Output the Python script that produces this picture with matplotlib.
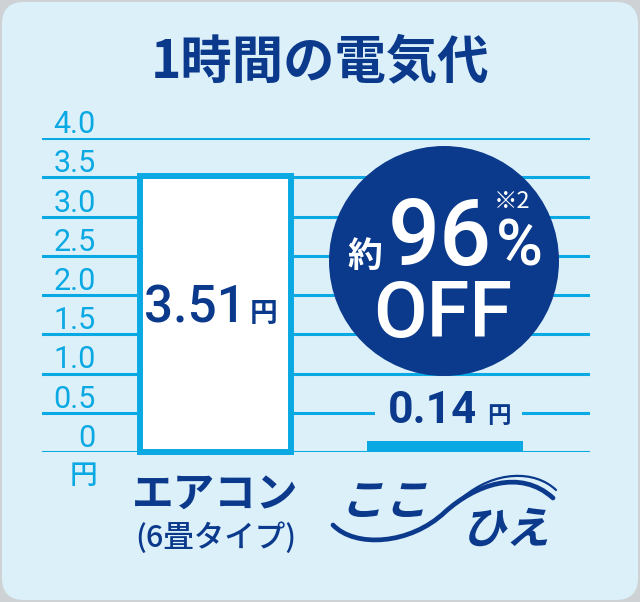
import numpy as np
import matplotlib.pyplot as plt
from matplotlib.patches import FancyBboxPatch, Circle, PathPatch
from matplotlib.path import Path
from matplotlib.textpath import TextPath
from matplotlib.font_manager import FontProperties
from matplotlib.transforms import Affine2D

# データ
categories = ['エアコン', 'ここひえ']
category_sub = '(6畳タイプ)'
costs = [3.51, 0.14]
cost_labels = ['3.51', '0.14']
y_ticks = [0, 0.5, 1.0, 1.5, 2.0, 2.5, 3.0, 3.5, 4.0]
y_tick_labels = ['0', '0.5', '1.0', '1.5', '2.0', '2.5', '3.0', '3.5', '4.0']
title = '1時間の電気代'
unit = '円'
off_pct = '96'

NAVY = '#0b3a8c'
CYAN = '#0aa9e3'
BG = '#dcf0fa'
JP = ['Noto Sans CJK JP', 'DejaVu Sans']
NUM = ['Roboto', 'Noto Sans CJK JP']

W, H = 640, 602
fig = plt.figure(figsize=(W / 100, H / 100), dpi=100)
fig.patch.set_facecolor('#cfd2d4')
# 画像のピクセル座標（y は下向き / 上向き）
PX = Affine2D().scale(1 / W, -1 / H).translate(0, 1) + fig.transFigure
PXU = Affine2D().scale(1 / W, 1 / H) + fig.transFigure

# 角丸の背景
fig.patches.append(FancyBboxPatch((2, 2), W - 4, H - 4,
                                  boxstyle='round,pad=0,rounding_size=22',
                                  fc=BG, ec='none', transform=PXU, zorder=-5))

fig.text(0.5, 1 - 62 / H, title, ha='center', va='center', fontsize=37,
         fontweight='bold', color=NAVY, family=JP)

ax = fig.add_axes([42 / W, (H - 452) / H, 548 / W, 314 / H])
ax.set_xlim(-0.756, 1.632)
ax.set_ylim(0, 4.0)
ax.axis('off')

# 目盛り線とラベル
for t, lab in zip(y_ticks, y_tick_labels):
    ax.axhline(t, color=CYAN, lw=2.2, zorder=1)
    ax.annotate(lab, xy=(0.1, t), xycoords=('axes fraction', 'data'),
                xytext=(-1, 5), textcoords='offset pixels', ha='right',
                va='baseline', color=CYAN, fontsize=22, family=NUM)
ax.annotate(unit, xy=(0.075, 0), xycoords='axes fraction', xytext=(0, -24),
            textcoords='offset pixels', ha='center', va='center',
            color=CYAN, fontsize=20, fontweight='medium', family=JP,
            annotation_clip=False)

# 棒
ax.bar(0, costs[0], width=0.658, color='white', edgecolor=CYAN,
       linewidth=4.3, zorder=3, clip_on=False)
ax.bar(1, costs[1], width=0.68, color=CYAN, zorder=3, clip_on=False)

# 値ラベル
ax.annotate(cost_labels[0], xy=(0, costs[0] / 2), xytext=(30, -8),
            textcoords='offset pixels', ha='right', va='baseline',
            color=NAVY, fontsize=37, fontweight='medium', family=NUM, zorder=4)
ax.annotate(unit, xy=(0, costs[0] / 2), xytext=(34, -8),
            textcoords='offset pixels', ha='left', va='baseline',
            color=NAVY, fontsize=20, fontweight='bold', family=JP, zorder=4)
ax.annotate(cost_labels[1], xy=(1, costs[1]), xytext=(33, 18),
            textcoords='offset pixels', ha='right', va='baseline',
            color=NAVY, fontsize=32, fontweight='bold', family=NUM, zorder=2,
            bbox=dict(boxstyle='square,pad=0.3', fc=BG, ec='none'))
ax.annotate(unit, xy=(1, costs[1]), xytext=(42, 18),
            textcoords='offset pixels', ha='left', va='baseline',
            color=NAVY, fontsize=17, fontweight='bold', family=JP, zorder=2,
            bbox=dict(boxstyle='square,pad=0.5', fc=BG, ec='none'))

# カテゴリ名
ax.annotate(categories[0], xy=(0, 0), xytext=(0, -43), textcoords='offset pixels',
            ha='center', va='center', color=NAVY, fontsize=30,
            fontweight='bold', family=JP, annotation_clip=False)
ax.annotate(category_sub, xy=(0, 0), xytext=(0, -86), textcoords='offset pixels',
            ha='center', va='center', color=NAVY, fontsize=22,
            fontweight='medium', family=JP, annotation_clip=False)

# 「約96%OFF」バッジ
circ = Circle((444, 261), 115, transform=PX, fc=NAVY, ec='none',
              zorder=5, clip_on=False)
ax.add_patch(circ)
badge = [('約', (-62, -6), 'right', 25, 'bold', JP),
         (off_pct, (-4, -4), 'center', 66, 'medium', NUM),
         ('%', (52, -4), 'left', 46, 'medium', NUM),
         ('※2', (50, 53), 'left', 17, 'normal', JP),
         ('OFF', (-1, -76), 'center', 56, 'medium', NUM)]
for s, off, ha, fs, fw, fam in badge:
    ax.annotate(s, xy=(0.5, 0.5), xycoords=circ, xytext=off,
                textcoords='offset pixels', ha=ha, va='baseline', color='white',
                fontsize=fs, fontweight=fw, family=fam, zorder=6,
                annotation_clip=False)

# 「ここひえ」ロゴ（斜体の文字と波線）
fp = FontProperties(family='Noto Sans CJK JP', weight='bold')
for s, cx, cy in [(categories[1][:2], 388, 500), (categories[1][2:], 510, 527)]:
    tp = TextPath((0, 0), s, size=44, prop=fp)
    ext = tp.get_extents()
    tr = (Affine2D().translate(-(ext.x0 + ext.x1) / 2, -(ext.y0 + ext.y1) / 2)
          .skew_deg(14, 0).translate(cx, H - cy) + PXU)
    fig.patches.append(PathPatch(tp, fc=NAVY, ec='none', transform=tr))
wave = Path([(333, 525), (355, 548), (410, 545), (445, 512),
             (475, 485), (520, 468), (553, 498)],
            [Path.MOVETO] + [Path.CURVE4] * 6)
fig.patches.append(PathPatch(wave, fc='none', ec=NAVY, lw=3.4,
                             capstyle='round', transform=PX))
wave2 = Path([(462, 498), (495, 470), (535, 470), (556, 490)],
             [Path.MOVETO] + [Path.CURVE4] * 3)
fig.patches.append(PathPatch(wave2, fc='none', ec=NAVY, lw=1.6,
                             capstyle='round', transform=PX))

fig.savefig('out.png', dpi=100, facecolor=fig.get_facecolor())
